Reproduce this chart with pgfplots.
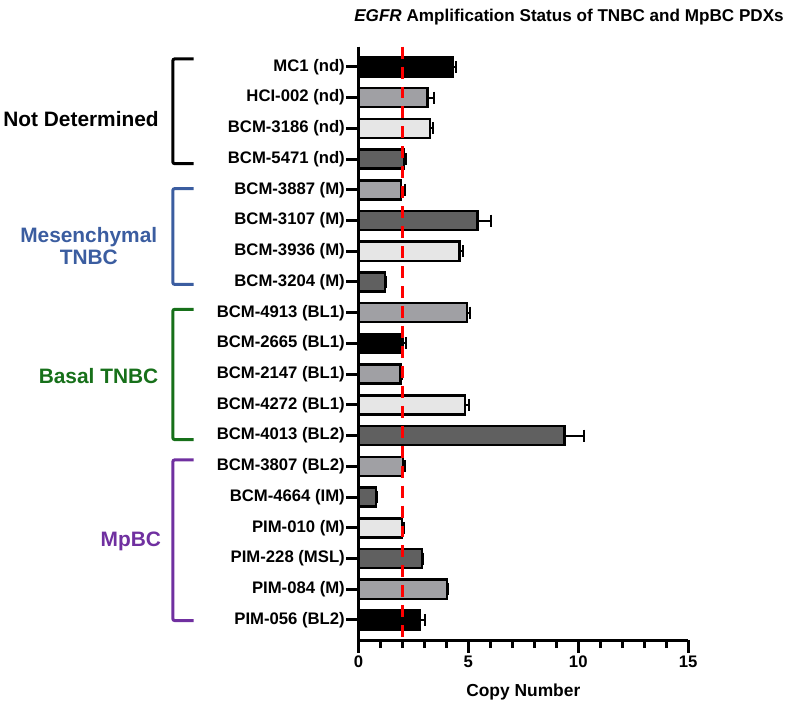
\documentclass[border=0pt]{standalone}
\usepackage{pgfplots}
\pgfplotsset{compat=1.18}
\usepackage{fontspec}
\setmainfont{Liberation Sans}
\definecolor{midgray}{HTML}{A0A0A4}
\definecolor{lightgray2}{HTML}{E6E6E6}
\definecolor{darkgray2}{HTML}{606060}
\definecolor{mesblue}{HTML}{3B5DA0}
\definecolor{basalgreen}{HTML}{17701A}
\definecolor{mppurple}{HTML}{7030A0}
\begin{document}
\begin{tikzpicture}
\begin{axis}[
  at={(0,0)}, anchor=south west,
  scale only axis, width=330.4bp, height=595bp,
  xmin=0, xmax=15, ymin=0.34, ymax=19.66, y dir=reverse,
  clip=false,
  axis x line*=bottom, axis y line*=left,
  axis line style={line width=3bp,-},
  xtick={0,5,10,15}, minor xtick={1,2,3,4,6,7,8,9,11,12,13,14},
  ytick={1,...,19},
  yticklabels={MC1 (nd),HCI-002 (nd),BCM-3186 (nd),BCM-5471 (nd),BCM-3887 (M),BCM-3107 (M),BCM-3936 (M),BCM-3204 (M),BCM-4913 (BL1),BCM-2665 (BL1),BCM-2147 (BL1),BCM-4272 (BL1),BCM-4013 (BL2),BCM-3807 (BL2),BCM-4664 (IM),PIM-010 (M),PIM-228 (MSL),PIM-084 (M),PIM-056 (BL2)},
  tick align=outside,
  major tick length=12.5bp, minor tick length=8bp,
  every tick/.style={line width=3bp, black},
  minor tick style={line width=3bp, black},
  major tick style={line width=3bp, black},
  /pgf/number format/assume math mode=true,
  ticklabel style={font=\bfseries\fontsize{16.8}{16.8}\selectfont},
  yticklabel style={inner sep=1bp},
  xlabel={Copy Number},
  xlabel style={font=\bfseries\fontsize{17.5}{17.5}\selectfont, yshift=-9bp},
  error bars/error bar style={line width=2bp, black},
  error bars/error mark=|,
  error bars/error mark options={line width=2bp, black, mark size=6bp},
]
% black bars
\addplot[xbar, bar width=0.62, bar shift=0pt, fill=black, draw=black, line width=2.5bp,
  error bars/.cd, x dir=plus, x explicit]
  coordinates {(4.30,1) +- (0.12,0) (2.00,10) +- (0.18,0) (2.80,19) +- (0.23,0)};
% mid gray bars
\addplot[xbar, bar width=0.62, bar shift=0pt, fill=midgray, draw=black, line width=2.5bp,
  error bars/.cd, x dir=plus, x explicit]
  coordinates {(3.15,2) +- (0.30,0) (1.94,5) +- (0.17,0) (4.94,9) +- (0.15,0) (1.91,11) +- (0.09,0) (2.03,14) +- (0.09,0) (4.03,18) +- (0.05,0)};
% light gray bars
\addplot[xbar, bar width=0.62, bar shift=0pt, fill=lightgray2, draw=black, line width=2.5bp,
  error bars/.cd, x dir=plus, x explicit]
  coordinates {(3.26,3) +- (0.15,0) (4.60,7) +- (0.15,0) (4.85,12) +- (0.18,0) (1.97,16) +- (0.12,0)};
% dark gray bars
\addplot[xbar, bar width=0.62, bar shift=0pt, fill=darkgray2, draw=black, line width=2.5bp,
  error bars/.cd, x dir=plus, x explicit]
  coordinates {(2.06,4) +- (0.09,0) (5.42,6) +- (0.59,0) (1.21,8) +- (0.06,0) (9.38,13) +- (0.87,0) (0.79,15) +- (0.06,0) (2.88,17) +- (0.06,0)};
% threshold line
\addplot[red, line width=3bp, dash pattern=on 12bp off 8bp] coordinates {(2,0.34) (2,19.66)};
% brackets
\draw[black, line width=3bp, rounded corners=2bp] (axis cs:-7.50,0.74) -- (axis cs:-8.45,0.74) -- (axis cs:-8.45,4.15) -- (axis cs:-7.50,4.15);
\draw[mesblue, line width=3bp, rounded corners=2bp] (axis cs:-7.50,4.96) -- (axis cs:-8.45,4.96) -- (axis cs:-8.45,8.08) -- (axis cs:-7.50,8.08);
\draw[basalgreen, line width=3bp, rounded corners=2bp] (axis cs:-7.50,8.89) -- (axis cs:-8.45,8.89) -- (axis cs:-8.45,13.13) -- (axis cs:-7.50,13.13);
\draw[mppurple, line width=3bp, rounded corners=2bp] (axis cs:-7.50,13.79) -- (axis cs:-8.45,13.79) -- (axis cs:-8.45,19.02) -- (axis cs:-7.50,19.02);
% group labels
\node[font=\bfseries\fontsize{21}{23}\selectfont, black, anchor=east, inner sep=0pt] at (axis cs:-9.08,2.69) {Not Determined};
\node[font=\bfseries\fontsize{21}{23}\selectfont, mesblue, align=center, anchor=east, inner sep=0pt] at (axis cs:-9.15,6.83) {Mesenchymal\\TNBC};
\node[font=\bfseries\fontsize{21}{23}\selectfont, basalgreen, anchor=east, inner sep=0pt] at (axis cs:-9.10,11.06) {Basal TNBC};
\node[font=\bfseries\fontsize{21}{23}\selectfont, mppurple, anchor=east, inner sep=0pt] at (axis cs:-8.98,16.45) {MpBC};
\end{axis}
\node[font=\bfseries\fontsize{17.2}{17.2}\selectfont] at (211bp,624.7bp) {\textit{EGFR} Amplification Status of TNBC and MpBC PDXs};
\path (-359.3bp,-62.3bp) rectangle (427.7bp,641.7bp);
\end{tikzpicture}
\end{document}
